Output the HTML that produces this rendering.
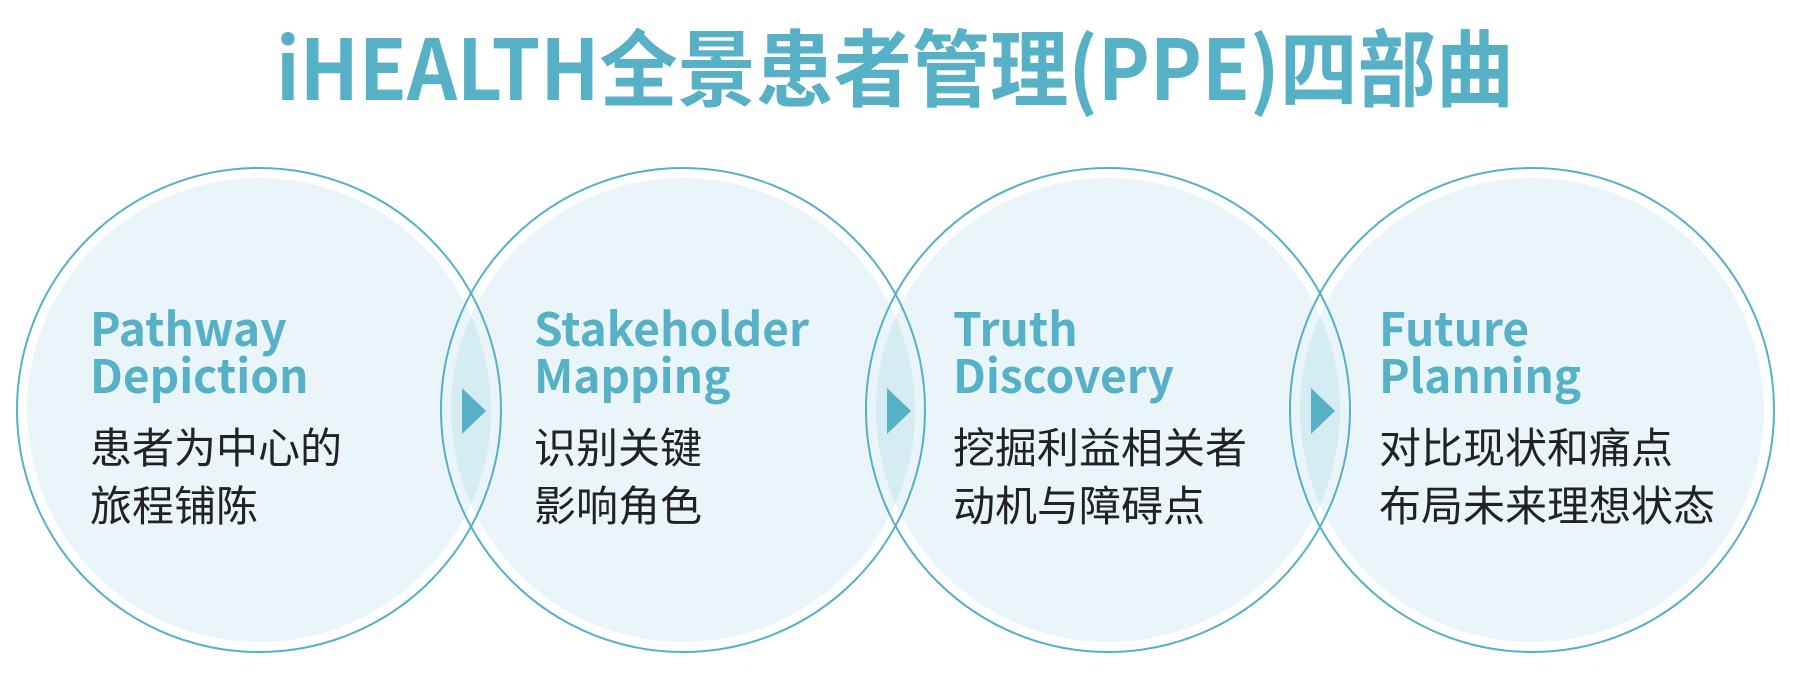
<!DOCTYPE html>
<html><head><meta charset="utf-8"><style>
html,body{margin:0;padding:0;background:#fff;}
svg{display:block;}
.t{font-family:"Noto Sans CJK SC","Liberation Sans",sans-serif;font-weight:700;fill:#56b0c6;}
.h{font-family:"Noto Sans CJK SC","Liberation Sans",sans-serif;font-weight:700;fill:#56b0c6;font-size:46px;}
.c{font-family:"Liberation Sans","Noto Sans CJK SC",sans-serif;fill:#222;font-size:42px;}
</style></head><body>
<svg width="1810" height="682" viewBox="0 0 1810 682" xmlns="http://www.w3.org/2000/svg">
<text class="t" x="276" y="100" font-size="84" textLength="1238" lengthAdjust="spacingAndGlyphs">iHEALTH全景患者管理(PPE)四部曲</text>
<g fill="#56b0c6" fill-opacity="0.13">
<circle cx="259" cy="410" r="232"/>
<circle cx="683" cy="410" r="232"/>
<circle cx="1108" cy="410" r="232"/>
<circle cx="1532" cy="410" r="232"/>
</g>
<g fill="none" stroke="#56b0c6" stroke-width="2">
<circle cx="259" cy="410" r="242"/>
<circle cx="683" cy="410" r="242"/>
<circle cx="1108" cy="410" r="242"/>
<circle cx="1532" cy="410" r="242"/>
</g>
<g fill="#56b0c6">
<polygon points="462,388 486,411 462,434"/>
<polygon points="887,388 911,411 887,434"/>
<polygon points="1311,388 1335,411 1311,434"/>
</g>
<text class="h" x="90" y="346">Pathway</text>
<text class="h" x="90" y="393">Depiction</text>
<text class="c" x="90" y="463">患者为中心的</text>
<text class="c" x="90" y="521">旅程铺陈</text>
<text class="h" x="534" y="346">Stakeholder</text>
<text class="h" x="534" y="393">Mapping</text>
<text class="c" x="534" y="463">识别关键</text>
<text class="c" x="534" y="521">影响角色</text>
<text class="h" x="953" y="346">Truth</text>
<text class="h" x="953" y="393">Discovery</text>
<text class="c" x="953" y="463">挖掘利益相关者</text>
<text class="c" x="953" y="521">动机与障碍点</text>
<text class="h" x="1379" y="346">Future</text>
<text class="h" x="1379" y="393">Planning</text>
<text class="c" x="1379" y="463">对比现状和痛点</text>
<text class="c" x="1379" y="521">布局未来理想状态</text>
</svg>
</body></html>
